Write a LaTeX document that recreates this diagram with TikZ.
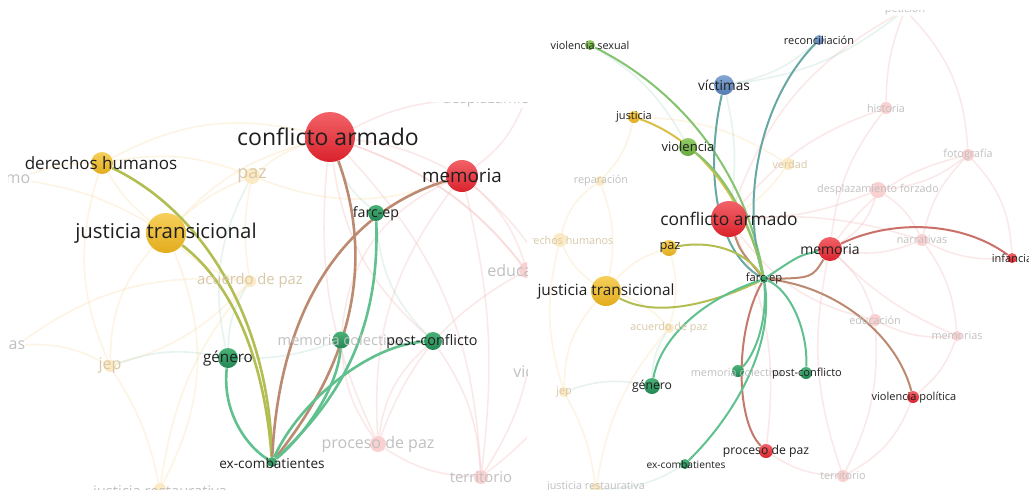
\documentclass[tikz,border=0pt]{standalone}
\usepackage{fontspec}
\setmainfont{Open Sans}
\usetikzlibrary{backgrounds}

\definecolor{redtop}{RGB}{242,98,104}
\definecolor{redbot}{RGB}{218,34,44}
\definecolor{yeltop}{RGB}{246,208,92}
\definecolor{yelbot}{RGB}{226,172,28}
\definecolor{grntop}{RGB}{74,178,118}
\definecolor{grnbot}{RGB}{34,134,84}
\definecolor{lgrtop}{RGB}{146,204,104}
\definecolor{lgrbot}{RGB}{102,170,62}
\definecolor{blutop}{RGB}{134,168,212}
\definecolor{blubot}{RGB}{82,122,176}
\definecolor{fadepink}{RGB}{250,208,208}
\definecolor{fadeyel}{RGB}{252,234,196}
\definecolor{fadegray}{RGB}{192,192,192}
\definecolor{fadetan}{RGB}{216,200,168}
\definecolor{linkgreen}{RGB}{96,192,142}
\definecolor{linkyg}{RGB}{178,190,82}
\definecolor{linkbrown}{RGB}{188,138,112}
\definecolor{linkyel}{RGB}{216,192,72}
\definecolor{linkteal}{RGB}{104,168,164}
\definecolor{linkred}{RGB}{202,112,104}
\definecolor{linklgrn}{RGB}{132,196,112}
\definecolor{faintpink}{RGB}{244,178,178}
\definecolor{faintyel}{RGB}{248,218,158}
\definecolor{faintgrn}{RGB}{168,214,194}

\newcommand{\fsz}[1]{\fontsize{#1}{#1}\selectfont}

\tikzset{
  bubble/.style={shape=circle, inner sep=0pt, draw=none},
  redb/.style={bubble, top color=redtop, bottom color=redbot},
  yelb/.style={bubble, top color=yeltop, bottom color=yelbot},
  grnb/.style={bubble, top color=grntop, bottom color=grnbot},
  lgrb/.style={bubble, top color=lgrtop, bottom color=lgrbot},
  blub/.style={bubble, top color=blutop, bottom color=blubot},
  dimpink/.style={bubble, fill=fadepink},
  dimyel/.style={bubble, fill=fadeyel},
  word/.style={inner sep=0pt, text=black!88},
  dimword/.style={inner sep=0pt, text=fadegray},
  dimtan/.style={inner sep=0pt, text=fadetan},
  link/.style={line width=1.3pt},
  thinlink/.style={line width=1pt},
  faint/.style={line width=0.8pt, draw opacity=0.28},
}

\begin{document}
\begin{tikzpicture}[x=0.5pt,y=-0.5pt]
  \useasboundingbox (0,0) rectangle (1029,489);

  % left panel
  \begin{scope}
    \clip (8,102) rectangle (527,489);
    \node[dimyel, minimum size=8pt] (lpaz) at (252,176) {};
    \node[dimyel, minimum size=6pt] (lacu) at (250,281) {};
    \node[dimyel, minimum size=6pt] (ljep) at (110,366) {};
    \node[dimyel, minimum size=6pt] (ljr) at (160,489) {};
    \node[dimpink, minimum size=8pt] (ledu) at (527,270) {};
    \node[dimpink, minimum size=8pt] (lproc) at (378,444) {};
    \node[dimpink, minimum size=7pt] (lterr) at (481,477) {};
    \node[dimtan, font=\fsz{9}] (lpaz-t) at (lpaz) {paz};
    \node[dimtan, font=\fsz{7.4}] (lacu-t) at (lacu) {acuerdo de paz};
    \node[dimtan, font=\fsz{8}] (ljep-t) at (ljep) {jep};
    \node[dimword, font=\fsz{7.4}] (ljr-t) at (160,493) {justicia restaurativa};
    \node[dimword, font=\fsz{8}] (lmo) at (18,179) {mo};
    \node[dimword, font=\fsz{8}] (las) at (17,345) {as};
    \node[dimword, font=\fsz{8}, anchor=west] (ledu-t) at (487,270) {educación};
    \node[dimword, font=\fsz{8}] (lproc-t) at (lproc) {proceso de paz};
    \node[dimword, font=\fsz{7.4}] (lterr-t) at (lterr) {territorio};
    \node[dimword, font=\fsz{7.4}, anchor=west] (ldesp) at (442,100) {desplazamiento forzado};
    \node[dimword, font=\fsz{8}, anchor=west] (lv) at (513,373) {violencia política};

    \node[redb, minimum size=25pt] (lca) at (330,137) {};
    \node[redb, minimum size=16pt] (lmem) at (462,176) {};
    \node[yelb, minimum size=11pt] (ldh) at (102,163) {};
    \node[yelb, minimum size=20pt] (ljt) at (166,233) {};
    \node[grnb, minimum size=8pt] (lfarc) at (376,213) {};
    \node[grnb, minimum size=10pt] (lgen) at (228,358) {};
    \node[grnb, minimum size=8.5pt] (lmc) at (341,340) {};
    \node[grnb, minimum size=9pt] (lpost) at (433,341) {};
    \node[grnb, minimum size=5pt] (lexc) at (272,462) {};

    \node[dimword, font=\fsz{7.3}] (lmc-t) at (340,340) {memoria colectiva};
    \node[word, font=\fsz{11.5}] (lca-t) at (328,137) {conflicto armado};
    \node[word, font=\fsz{9.4}] (lmem-t) at (lmem) {memoria};
    \node[word, font=\fsz{8.5}] (ldh-t) at (101,163) {derechos humanos};
    \node[word, font=\fsz{10.2}] (ljt-t) at (ljt) {justicia transicional};
    \node[word, font=\fsz{7.1}] (lfarc-t) at (376,214) {farc-ep};
    \node[word, font=\fsz{7.6}] (lgen-t) at (lgen) {género};
    \node[word, font=\fsz{7.2}] (lpost-t) at (432,342) {post-conflicto};
    \node[word, font=\fsz{6.8}] (lexc-t) at (272,463) {ex-combatientes};
  \end{scope}

  % right panel
  \begin{scope}
    \clip (532,10) rectangle (1029,489);
    \node[dimpink, minimum size=6pt] (rhist) at (886,108) {};
    \node[dimpink, minimum size=6pt] (rfoto) at (968,155) {};
    \node[dimyel, minimum size=6pt] (rver) at (788,164) {};
    \node[dimpink, minimum size=8pt] (rdesp) at (878,190) {};
    \node[dimyel, minimum size=5pt] (rrep) at (600,181) {};
    \node[dimyel, minimum size=7pt] (rdh) at (560,240) {};
    \node[dimpink, minimum size=6pt] (rnar) at (922,240) {};
    \node[dimyel, minimum size=5pt] (racu) at (669,328) {};
    \node[dimpink, minimum size=6pt] (redu) at (875,320) {};
    \node[dimpink, minimum size=5pt] (rmems) at (957,336) {};
    \node[dimyel, minimum size=5pt] (rjep) at (564,392) {};
    \node[dimpink, minimum size=6pt] (rterr) at (843,476) {};
    \node[dimyel, minimum size=6pt] (rjr) at (596,489) {};
    \node[dimword, font=\fsz{5.4}] (rpet) at (905,10) {petición};
    \node[dimword, font=\fsz{5.4}] (rhist-t) at (rhist) {historia};
    \node[dimword, font=\fsz{5.4}] (rfoto-t) at (rfoto) {fotografía};
    \node[dimtan, font=\fsz{5.4}] (rver-t) at (790,164) {verdad};
    \node[dimword, font=\fsz{5.4}] (rdesp-t) at (rdesp) {desplazamiento forzado};
    \node[dimword, font=\fsz{5.4}] (rrep-t) at (601,181) {reparación};
    \node[dimtan, font=\fsz{5.4}] (rdh-t) at (565,240) {derechos humanos};
    \node[dimword, font=\fsz{5.4}] (rnar-t) at (rnar) {narrativas};
    \node[dimtan, font=\fsz{5.4}] (racu-t) at (racu) {acuerdo de paz};
    \node[dimword, font=\fsz{5.4}] (redu-t) at (redu) {educación};
    \node[dimword, font=\fsz{5.4}] (rmems-t) at (rmems) {memorias};
    \node[dimtan, font=\fsz{5.4}] (rjep-t) at (rjep) {jep};
    \node[dimword, font=\fsz{5.4}] (rterr-t) at (rterr) {territorio};
    \node[dimword, font=\fsz{5.4}] (rjr-t) at (596,487) {justicia restaurativa};

    \node[lgrb, minimum size=5pt] (rvs) at (590,45) {};
    \node[blub, minimum size=10pt] (rvic) at (724,85) {};
    \node[blub, minimum size=5pt] (rrec) at (819,40) {};
    \node[yelb, minimum size=6pt] (rjus) at (634,117) {};
    \node[lgrb, minimum size=9pt] (rviol) at (688,147) {};
    \node[redb, minimum size=18pt] (rca) at (729,219) {};
    \node[yelb, minimum size=8pt] (rpaz) at (669,248) {};
    \node[redb, minimum size=12pt] (rmem) at (830,249) {};
    \node[redb, minimum size=5pt] (rinf) at (1012,258) {};
    \node[grnb, minimum size=4pt] (rfarc) at (764,279) {};
    \node[yelb, minimum size=15pt] (rjt) at (606,291) {};
    \node[grnb, minimum size=8pt] (rgen) at (652,386) {};
    \node[grnb, minimum size=6pt] (rmc) at (738,371) {};
    \node[grnb, minimum size=6pt] (rpost) at (806,373) {};
    \node[redb, minimum size=6pt] (rvp) at (913,397) {};
    \node[redb, minimum size=7pt] (rproc) at (766,451) {};
    \node[grnb, minimum size=5pt] (rexc) at (685,464) {};

    \node[dimword, font=\fsz{5.4}] (rmc-t) at (737,372) {memoria colectiva};
    \node[word, font=\fsz{5.4}] (rvs-t) at (rvs) {violencia sexual};
    \node[word, font=\fsz{6.8}] (rvic-t) at (rvic) {víctimas};
    \node[word, font=\fsz{5.5}] (rrec-t) at (rrec) {reconciliación};
    \node[word, font=\fsz{5.5}] (rjus-t) at (rjus) {justicia};
    \node[word, font=\fsz{6.5}] (rviol-t) at (rviol) {violencia};
    \node[word, font=\fsz{8.7}] (rca-t) at (rca) {conflicto armado};
    \node[word, font=\fsz{6.4}] (rpaz-t) at (670,248) {paz};
    \node[word, font=\fsz{7}] (rmem-t) at (rmem) {memoria};
    \node[word, font=\fsz{5.5}] (rinf-t) at (rinf) {infancia};
    \node[word, font=\fsz{5.6}] (rfarc-t) at (rfarc) {farc-ep};
    \node[word, font=\fsz{7.7}] (rjt-t) at (rjt) {justicia transicional};
    \node[word, font=\fsz{6.1}] (rgen-t) at (rgen) {género};
    \node[word, font=\fsz{5.5}] (rpost-t) at (807,374) {post-conflicto};
    \node[word, font=\fsz{5.5}] (rvp-t) at (914,398) {violencia política};
    \node[word, font=\fsz{6.1}] (rproc-t) at (rproc) {proceso de paz};
    \node[word, font=\fsz{5.1}] (rexc-t) at (686,465) {ex-combatientes};
  \end{scope}

  \begin{scope}[on background layer]
    \fill[white] (0,0) rectangle (1029,489);
    \begin{scope}
      \clip (8,102) rectangle (527,489);
      % faint links, left
      \path[faint, draw=faintpink] (lca) edge[bend left=10] (lmem) edge[bend right=15] (lproc)
        edge[bend left=20] (lterr) edge[bend left=15] (ledu) edge[bend left=10] (ldesp)
        edge[bend left=25] (lv) edge[bend right=20] (lpost);
      \path[faint, draw=faintpink] (lmem) edge[bend left=15] (ledu) edge[bend right=20] (lproc)
        edge[bend left=10] (lterr) edge[bend right=15] (ldesp) edge[bend left=20] (lv)
        edge[bend right=30] (lmc);
      \path[faint, draw=faintpink] (lproc) edge[bend right=15] (lterr) edge[bend left=20] (ledu)
        edge[bend left=15] (lmc) (ledu) edge[bend left=20] (lterr) (lpost) edge[bend left=15] (lterr)
        edge[bend right=20] (lproc) (lv) edge[bend left=10] (lterr);
      \path[faint, draw=faintyel] (ldh) edge[bend left=15] (lpaz) edge[bend right=10] (ljt)
        edge[bend right=20] (ljep) edge[bend left=20] (lca) edge[bend right=10] (lmo);
      \path[faint, draw=faintyel] (ljt) edge[bend left=10] (lpaz) edge[bend right=15] (lacu)
        edge[bend right=20] (ljep) edge[bend left=15] (lca) edge[bend right=10] (lmo)
        edge[bend left=25] (ljr);
      \path[faint, draw=faintyel] (lacu) edge[bend left=15] (ljep) edge[bend right=15] (ljr)
        edge[bend left=10] (lpaz) edge[bend right=20] (las) (ljep) edge[bend left=10] (ljr)
        edge[bend right=15] (las) (lpaz) edge[bend left=10] (lca) edge[bend right=20] (lmem);
      \path[faint, draw=faintgrn] (lgen) edge[bend left=15] (lacu) edge[bend right=10] (lmc)
        edge[bend left=20] (lpaz) edge[bend right=15] (ljep) (lfarc) edge[bend left=15] (lca)
        (lpost) edge[bend left=20] (lfarc);
      % strong links, left
      \draw[link, linkyg] (ldh) .. controls (210,215) and (270,330) .. (lexc);
      \draw[link, linkyg] (ljt) .. controls (215,270) and (262,330) .. (lexc);
      \draw[link, linkbrown] (lca) .. controls (370,250) and (362,350) .. (lexc);
      \draw[link, linkbrown] (lmem) .. controls (350,210) and (280,300) .. (lexc);
      \draw[link, linkgreen] (lfarc) .. controls (380,330) and (340,400) .. (lexc);
      \draw[link, linkgreen] (lgen) .. controls (222,410) and (245,445) .. (lexc);
      \draw[link, linkgreen] (lmc) .. controls (338,390) and (300,440) .. (lexc);
      \draw[link, linkgreen] (lpost) .. controls (370,345) and (300,400) .. (lexc);
    \end{scope}
    \begin{scope}
      \clip (532,10) rectangle (1029,489);
      % faint links, right
      \path[faint, draw=faintpink] (rca) edge[bend left=15] (rhist) edge[bend right=10] (rdesp)
        edge[bend left=10] (rnar) edge[bend right=20] (redu) edge[bend left=15] (rproc)
        edge[bend left=20] (rpet);
      \path[faint, draw=faintpink] (rmem) edge[bend right=15] (rnar) edge[bend left=15] (redu)
        edge[bend right=10] (rmems) edge[bend left=15] (rhist) edge[bend right=20] (rdesp)
        edge[bend left=20] (rfoto) edge[bend right=15] (rterr);
      \path[faint, draw=faintpink] (rhist) edge[bend left=10] (rpet) (rfoto) edge[bend left=15] (rdesp)
        edge[bend right=15] (rnar) edge[bend right=20] (rpet) (rdesp) edge[bend left=15] (rnar)
        (redu) edge[bend left=15] (rterr) (rproc) edge[bend right=15] (rterr)
        (rvp) edge[bend left=20] (rterr) edge[bend right=15] (rmems) (rnar) edge[bend left=15] (rmems)
        (redu) edge[bend right=15] (rmems) (rinf) edge[bend left=15] (rnar) edge[bend right=20] (rfoto);
      \path[faint, draw=faintyel] (rjt) edge[bend left=15] (rdh) edge[bend right=15] (rrep)
        edge[bend left=15] (racu) edge[bend right=20] (rjep) edge[bend left=15] (rpaz)
        (rjep) edge[bend left=10] (rjr) (racu) edge[bend right=15] (rjr) (rdh) edge[bend left=20] (rrep)
        edge[bend right=15] (rjep) (rjus) edge[bend left=15] (rrep) (rver) edge[bend left=10] (rca)
        edge[bend right=15] (rjus) (rpaz) edge[bend left=15] (racu);
      \path[faint, draw=faintgrn] (rvs) edge[bend left=15] (rviol) (rvic) edge[bend right=15] (rrec)
        edge[bend left=10] (rca) edge[bend right=15] (rpet) (rgen) edge[bend left=15] (racu)
        edge[bend right=15] (rjep) (rexc) edge[bend left=15] (rjr);
      % strong links, right
      \draw[thinlink, linklgrn] (rvs) .. controls (680,90) and (745,170) .. (rfarc);
      \draw[thinlink, linkteal] (rvic) .. controls (705,170) and (715,250) .. (rfarc);
      \draw[thinlink, linkteal] (rrec) .. controls (760,100) and (740,200) .. (rfarc);
      \draw[thinlink, linkyel] (rjus) .. controls (700,140) and (745,200) .. (rfarc);
      \draw[thinlink, linklgrn] (rviol) .. controls (725,175) and (750,220) .. (rfarc);
      \draw[thinlink, linkbrown] (rca) .. controls (740,250) .. (rfarc);
      \draw[thinlink, linkyg] (rpaz) .. controls (710,240) and (745,250) .. (rfarc);
      \draw[thinlink, linkyg] (rjt) .. controls (660,320) and (720,300) .. (rfarc);
      \draw[thinlink, linkgreen] (rmem) .. controls (800,255) .. (rfarc);
      \draw[thinlink, linkbrown] (rmem) .. controls (812,278) .. (rfarc);
      \draw[thinlink, linkred] (rmem) .. controls (890,220) and (960,220) .. (rinf);
      \draw[thinlink, linkbrown] (rfarc) .. controls (830,285) and (895,330) .. (rvp);
      \draw[thinlink, linkgreen] (rfarc) .. controls (700,300) and (660,340) .. (rgen);
      \draw[thinlink, linkgreen] (rfarc) .. controls (768,330) and (750,360) .. (rmc);
      \draw[thinlink, linkgreen] (rfarc) .. controls (790,290) and (808,330) .. (rpost);
      \draw[thinlink, linkred!60!linkbrown] (rfarc) .. controls (735,330) and (735,420) .. (rproc);
      \draw[thinlink, linkgreen] (rfarc) .. controls (775,350) and (730,420) .. (rexc);
    \end{scope}
  \end{scope}
\end{tikzpicture}
\end{document}
